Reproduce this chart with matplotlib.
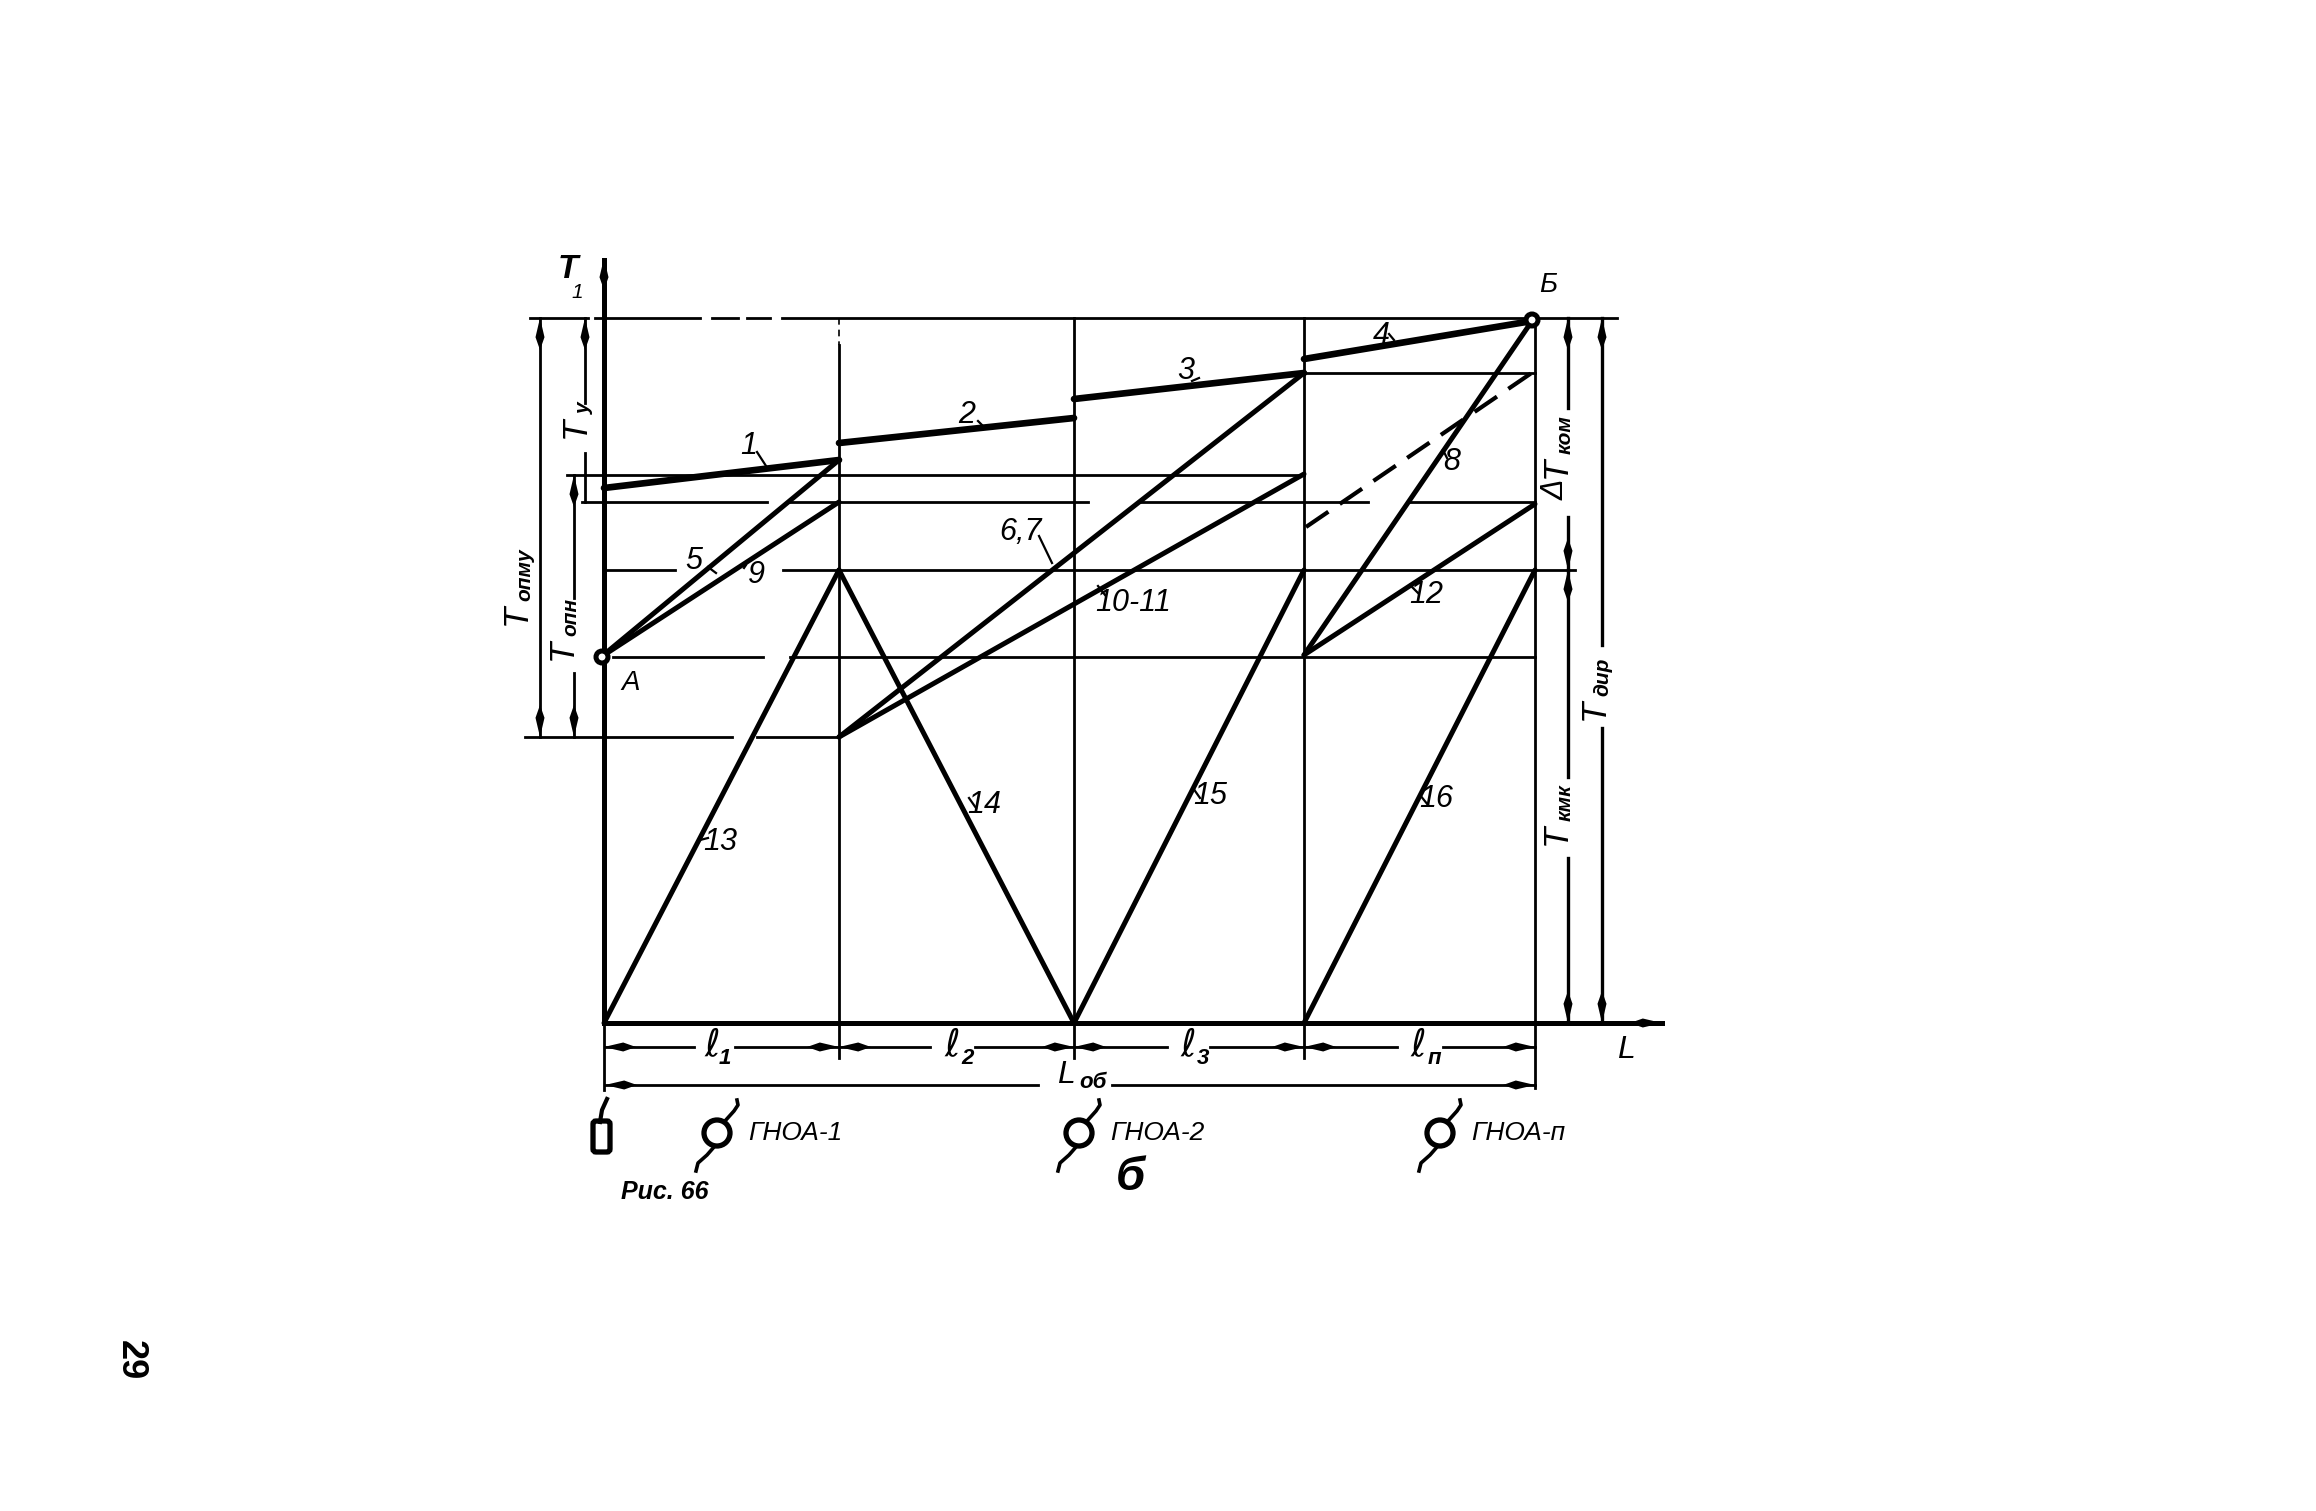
#!/usr/bin/env python3
# -*- coding: utf-8 -*-
import matplotlib
matplotlib.use('Agg')
import matplotlib.pyplot as plt
from matplotlib.patches import Circle, FancyBboxPatch

plt.rcParams['font.family'] = ['Liberation Sans', 'DejaVu Sans']

# Stations along the route (L) and levels of the temperature scale (T)
stations = [604, 839, 1074, 1304, 1535]
T_top = 318
T_3 = 373
T_opmu = 475
T_opn = 502
T_dir = 570
T_a = 657
T_low = 737
T_zero = 1023
L_end = 1662

# Thick lines 1-4
line_1 = ([604, 839], [488, 460])
line_2 = ([839, 1074], [443, 418])
line_3 = ([1074, 1304], [399, 373])
line_4 = ([1304, 1532], [359, 321])
# Medium lines
line_5 = ([601, 839], [657, 460])
line_9 = ([601, 839], [657, 502])
line_67 = ([839, 1304], [737, 373])
line_1011 = ([839, 1304], [737, 474])
line_8 = ([1304, 1532], [655, 321])
line_12 = ([1304, 1535], [655, 504])
line_13 = ([604, 839], [1023, 570])
line_14 = ([839, 1074], [570, 1023])
line_15 = ([1074, 1304], [1023, 570])
line_16 = ([1304, 1535], [1023, 570])
line_dash = ([1306, 1533], [527, 372])

# Thin horizontal levels: level, list of pieces
level_pieces = [
    (T_top, [(530, 588), (595, 700), (712, 738), (747, 770), (782, 1617)]),
    (T_3, [(1304, 1535)]),
    (T_opmu, [(567, 1304)]),
    (T_opn, [(582, 767), (790, 1088), (1140, 1368), (1410, 1535)]),
    (T_dir, [(605, 675), (783, 1575)]),
    (T_a, [(613, 763), (790, 1535)]),
    (T_low, [(525, 732), (757, 839)]),
]

# Numbers on the lines: text, x, y
line_labels = [('1', 749, 446), ('2', 967, 415), ('3', 1186, 371), ('4', 1381, 336),
               ('5', 694, 561), ('9', 756, 575), ('6,7', 1021, 532), ('10-11', 1133, 603),
               ('8', 1452, 462), ('12', 1426, 595), ('13', 720, 842), ('14', 984, 805),
               ('15', 1210, 796), ('16', 1436, 799)]
# Small leader strokes beside the numbers
leaders = [([757, 768], [452, 469]), ([978, 985], [421, 428]), ([1192, 1199], [381, 378]),
           ([1389, 1394], [334, 340]), ([708, 716], [567, 573]), ([746, 744], [565, 568]),
           ([1039, 1052], [536, 563]), ([1098, 1105], [586, 595]), ([1443, 1447], [450, 458]),
           ([1410, 1418], [585, 593]), ([700, 708], [840, 838]), ([969, 976], [798, 808]),
           ([1193, 1200], [788, 798]), ([1420, 1428], [795, 805])]

# Route dimension lines: pieces between labels
dim_l_y = 1047
dim_l_pieces = [(605, 694), (735, 930), (975, 1167), (1210, 1397), (1443, 1535)]
dim_total_y = 1085
dim_total_pieces = [(605, 1038), (1112, 1535)]

pump_x = [717, 1079, 1440]
pump_y = 1133
pump_names = ['ГНОА-1', 'ГНОА-2', 'ГНОА-п']


def draw_lines(ax, line, lw, **kw):
    ax.plot(line[0], line[1], color='black', lw=lw, solid_capstyle='round', **kw)


def spindle(ax, x, y, dx, dy):
    # Long narrow arrow head with its tip at x, y
    ln = 32
    w = 4.5
    ax.fill([x, x + dx * ln * 0.6 - dy * w, x + dx * ln, x + dx * ln * 0.6 + dy * w],
            [y, y + dy * ln * 0.6 + dx * w, y + dy * ln, y + dy * ln * 0.6 - dx * w],
            color='black', lw=0, zorder=4)


def sub_label(ax, x, y, main, sub, size=25, subsize=15):
    # Dimension label with its index, both rotated along the line
    ax.text(x, y, main, rotation=90, style='italic', fontsize=size, ha='center', va='bottom')
    ax.text(x + 9, y - 24, sub, rotation=90, style='italic', fontweight='bold',
            fontsize=subsize, ha='center', va='bottom')


fig = plt.figure(figsize=(23.16, 15.11), dpi=100)
ax = fig.add_axes([0, 0, 1, 1])
ax.set_xlim(0, 2316)
ax.set_ylim(1511, 0)
ax.axis('off')

thin = 2.0
medium = 3.6
heavy = 4.8
axis_lw = 3.6

# Levels
for level, pieces in level_pieces:
    for a, b in pieces:
        ax.plot([a, b], [level, level], color='black', lw=thin)

# Station verticals
ax.plot([stations[0], stations[0]], [260, T_zero], color='black', lw=axis_lw)
ax.plot([stations[0], stations[0]], [T_zero, 1090], color='black', lw=thin)
ax.plot([stations[1], stations[1]], [T_top, 345], color='black', lw=1.2, ls=(0, (4, 3)))
ax.plot([stations[1], stations[1]], [345, 1058], color='black', lw=thin)
for x in stations[2:4]:
    ax.plot([x, x], [T_top, 1058], color='black', lw=thin)
ax.plot([stations[4], stations[4]], [T_top, 1088], color='black', lw=thin)

# T and L axes
ax.plot([604, L_end], [T_zero, T_zero], color='black', lw=axis_lw)
spindle(ax, 604, 258, 0, 1)
spindle(ax, L_end, T_zero, -1, 0)

# Lines of the graph
for line in [line_1, line_2, line_3, line_4]:
    draw_lines(ax, line, heavy)
for line in [line_5, line_9, line_67, line_1011, line_8, line_12,
             line_13, line_14, line_15, line_16]:
    draw_lines(ax, line, medium)
ax.plot(line_dash[0], line_dash[1], color='black', lw=3.0, ls=(0, (6.5, 3.3)))

# End points A and B
for (x, y) in [(602, 657), (1532, 320)]:
    ax.add_patch(Circle((x, y), 6, fc='white', ec='black', lw=3.6, zorder=5))

for text, x, y in line_labels:
    ax.text(x, y, text, style='italic', fontsize=22, ha='center', va='center')
for xs, ys in leaders:
    ax.plot(xs, ys, color='black', lw=1.6)
ax.text(631, 683, 'А', style='italic', fontsize=20, ha='center', va='center')
ax.text(1548, 285, 'Б', style='italic', fontsize=20, ha='center', va='center')
ax.text(568, 270, 'Т', style='italic', fontweight='bold', fontsize=24, ha='center', va='center')
ax.text(577, 292, '1', style='italic', fontsize=15, ha='center', va='center')

# Left dimension lines
ax.plot([540, 540], [T_top, T_low], color='black', lw=thin)
spindle(ax, 540, T_top, 0, 1)
spindle(ax, 540, T_low, 0, -1)
for piece in [(T_opmu, 598), (673, T_low)]:
    ax.plot([574, 574], piece, color='black', lw=thin)
spindle(ax, 574, T_opmu, 0, 1)
spindle(ax, 574, T_low, 0, -1)
for piece in [(T_top, 403), (453, T_opn)]:
    ax.plot([585, 585], piece, color='black', lw=thin)
spindle(ax, 585, T_top, 0, 1)
sub_label(ax, 516, 625, 'Т', 'опму')
sub_label(ax, 562, 660, 'Т', 'опн')
sub_label(ax, 575, 438, 'Т', 'у')

# Right dimension lines
for piece in [(T_top, 408), (517, T_dir), (T_dir, 777), (858, T_zero)]:
    ax.plot([1568, 1568], piece, color='black', lw=thin + 0.4)
spindle(ax, 1568, T_top, 0, 1)
spindle(ax, 1568, T_dir, 0, -1)
spindle(ax, 1568, T_dir, 0, 1)
spindle(ax, 1568, T_zero, 0, -1)
for piece in [(T_top, 645), (728, T_zero)]:
    ax.plot([1602, 1602], piece, color='black', lw=thin + 0.4)
spindle(ax, 1602, T_top, 0, 1)
spindle(ax, 1602, T_zero, 0, -1)
ax.text(1556, 500, 'Δ', rotation=90, style='italic', fontsize=22, ha='center', va='bottom')
sub_label(ax, 1556, 478, 'Т', 'ком')
sub_label(ax, 1556, 845, 'Т', 'кмк')
sub_label(ax, 1594, 720, 'Т', 'дир')

# Route dimension lines
for a, b in dim_l_pieces:
    ax.plot([a, b], [dim_l_y, dim_l_y], color='black', lw=thin)
for a, b in dim_total_pieces:
    ax.plot([a, b], [dim_total_y, dim_total_y], color='black', lw=thin)
for x in stations[:4]:
    spindle(ax, x, dim_l_y, 1, 0)
for x in stations[1:]:
    spindle(ax, x, dim_l_y, -1, 0)
spindle(ax, 605, dim_total_y, 1, 0)
spindle(ax, 1535, dim_total_y, -1, 0)
for text, x in [('ℓ', 712), ('ℓ', 952), ('ℓ', 1188), ('ℓ', 1418)]:
    ax.text(x, 1045, text, style='italic', fontsize=27, ha='center', va='center',
            family=['DejaVu Sans'])
for text, x in [('1', 725), ('2', 968), ('3', 1203), ('п', 1434)]:
    ax.text(x, 1058, text, style='italic', fontweight='bold', fontsize=16, ha='center', va='center')
ax.text(1066, 1075, 'L', style='italic', fontsize=23, ha='center', va='center')
ax.text(1093, 1082, 'об', style='italic', fontweight='bold', fontsize=16, ha='center', va='center')
ax.text(1626, 1050, 'L', style='italic', fontsize=23, ha='center', va='center')

# Bottle at the start of the route
ax.add_patch(FancyBboxPatch((596, 1124), 11, 25, boxstyle='round,pad=3', fc='white', ec='black', lw=3.8))
ax.plot([600, 602, 607], [1122, 1110, 1099], color='black', lw=3)

# Pumps
for x, name in zip(pump_x, pump_names):
    ax.add_patch(Circle((x, pump_y), 13, fc='white', ec='black', lw=3.8, zorder=3))
    ax.plot([x + 8, x + 17, x + 21, x + 20], [pump_y - 12, pump_y - 22, pump_y - 28, pump_y - 33],
            color='black', lw=2.6)
    ax.plot([x - 3, x - 10, x - 19, x - 21], [pump_y + 14, pump_y + 22, pump_y + 30, pump_y + 38],
            color='black', lw=2.6)
    ax.text(x + 31, pump_y, name, style='italic', fontsize=19, ha='left', va='center')

ax.text(665, 1192, 'Рис. 66', style='italic', fontweight='bold', fontsize=18, ha='center', va='center')
ax.text(1130, 1178, 'б', style='italic', fontweight='bold', fontsize=34, ha='center', va='center')
ax.text(130, 1360, '29', rotation=-90, fontsize=26, ha='center', va='center', fontweight='bold')

fig.savefig('out.png', dpi=100, facecolor='white')
